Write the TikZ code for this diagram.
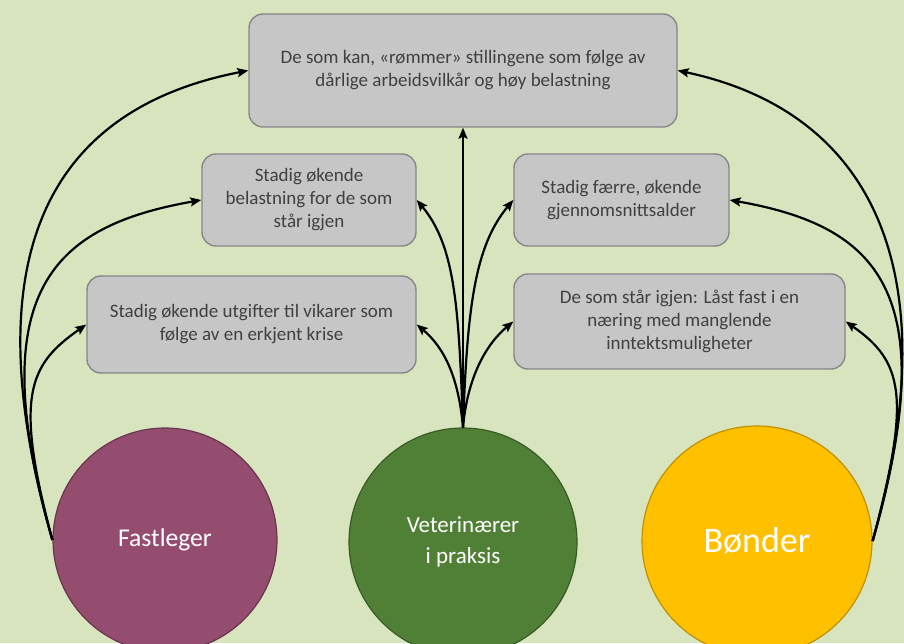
\documentclass[tikz,border=0pt]{standalone}
\usepackage{fontspec}
\setmainfont{Carlito}
\usepackage{tikz}
\usetikzlibrary{arrows.meta}

\definecolor{bgcol}{RGB}{216,228,190}
\definecolor{boxcol}{RGB}{199,198,199}
\definecolor{boxline}{RGB}{135,135,135}
\definecolor{boxtext}{RGB}{64,64,64}
\definecolor{plum}{RGB}{148,76,111}
\definecolor{leaf}{RGB}{80,128,53}
\definecolor{corn}{RGB}{255,192,0}

\begin{document}
\begin{tikzpicture}[x=0.5pt,y=0.5pt,
    box/.style={draw=boxline,line width=0.7pt,fill=boxcol,rounded corners=7pt,
      align=center,text=boxtext,inner sep=0pt,font=\fontsize{9.5}{11.5}\selectfont},
    actor/.style={circle,inner sep=0pt,align=center,text=white,line width=0.6pt},
    arr/.style={line width=1.1pt,->,>={Stealth[length=5.5pt,width=4.5pt,inset=1pt]}}]
  \clip (0,0) rectangle (904,643);
  \fill [bgcol] (0,0) rectangle (904,643);

  % the three groups
  \node [actor,fill=plum,draw=plum!70!black,minimum size=112pt,
    font=\fontsize{12.8}{15}\selectfont] (fast) at (165,103) {Fastleger};
  \node [actor,fill=leaf,draw=leaf!70!black,minimum size=114pt,
    font=\fontsize{11.5}{15.5}\selectfont] (vet) at (463,101) {Veterinærer\\i praksis};
  \node [actor,fill=corn,draw=corn!75!black,minimum size=115pt,
    font=\fontsize{18}{20}\selectfont] (farm) at (757,102) {Bønder};

  % the consequences
  \node [box,minimum width=214pt,minimum height=56.5pt] (quit) at (463,572.5)
    {De som kan, «rømmer» stillingene som følge av\\dårlige arbeidsvilkår og høy belastning};
  \node [box,minimum width=107pt,minimum height=46pt] (load) at (309,443)
    {Stadig økende\\belastning for de som\\står igjen};
  \node [box,minimum width=164.5pt,minimum height=48.5pt] (cost) at (251.5,318.5)
    {Stadig økende utgifter til vikarer som\\følge av en erkjent krise};
  \node [box,minimum width=107.5pt,minimum height=46pt] (age) at (621.5,443)
    {Stadig færre, økende\\gjennomsnittsalder};
  \node [box,minimum width=165.5pt,minimum height=47.5pt] (stuck) at (679.5,321.5)
    {De som står igjen: Låst fast i en\\næring med manglende\\inntektsmuligheter};

  \path [arr] (fast.west)
    edge [out=106,in=191,out distance=150pt,in distance=100pt] (quit.west)
    edge [out=106,in=190,out distance=130pt,in distance=75pt] (load.west)
    edge [out=105,in=215,out distance=75pt,in distance=35pt] (cost.west);

  \path [arr] (vet.north) edge (quit.south)
    edge [out=92,in=-50,out distance=60pt,in distance=30pt] (load.east)
    edge [out=95,in=-40,out distance=25pt,in distance=18pt] (cost.east)
    edge [out=88,in=230,out distance=60pt,in distance=30pt] (age.west)
    edge [out=85,in=220,out distance=25pt,in distance=18pt] (stuck.west);

  \path [arr] (farm.east)
    edge [out=74,in=-12,out distance=140pt,in distance=100pt] (quit.east)
    edge [out=74,in=-10,out distance=130pt,in distance=75pt] (age.east)
    edge [out=75,in=-35,out distance=75pt,in distance=35pt] (stuck.east);
\end{tikzpicture}
\end{document}
